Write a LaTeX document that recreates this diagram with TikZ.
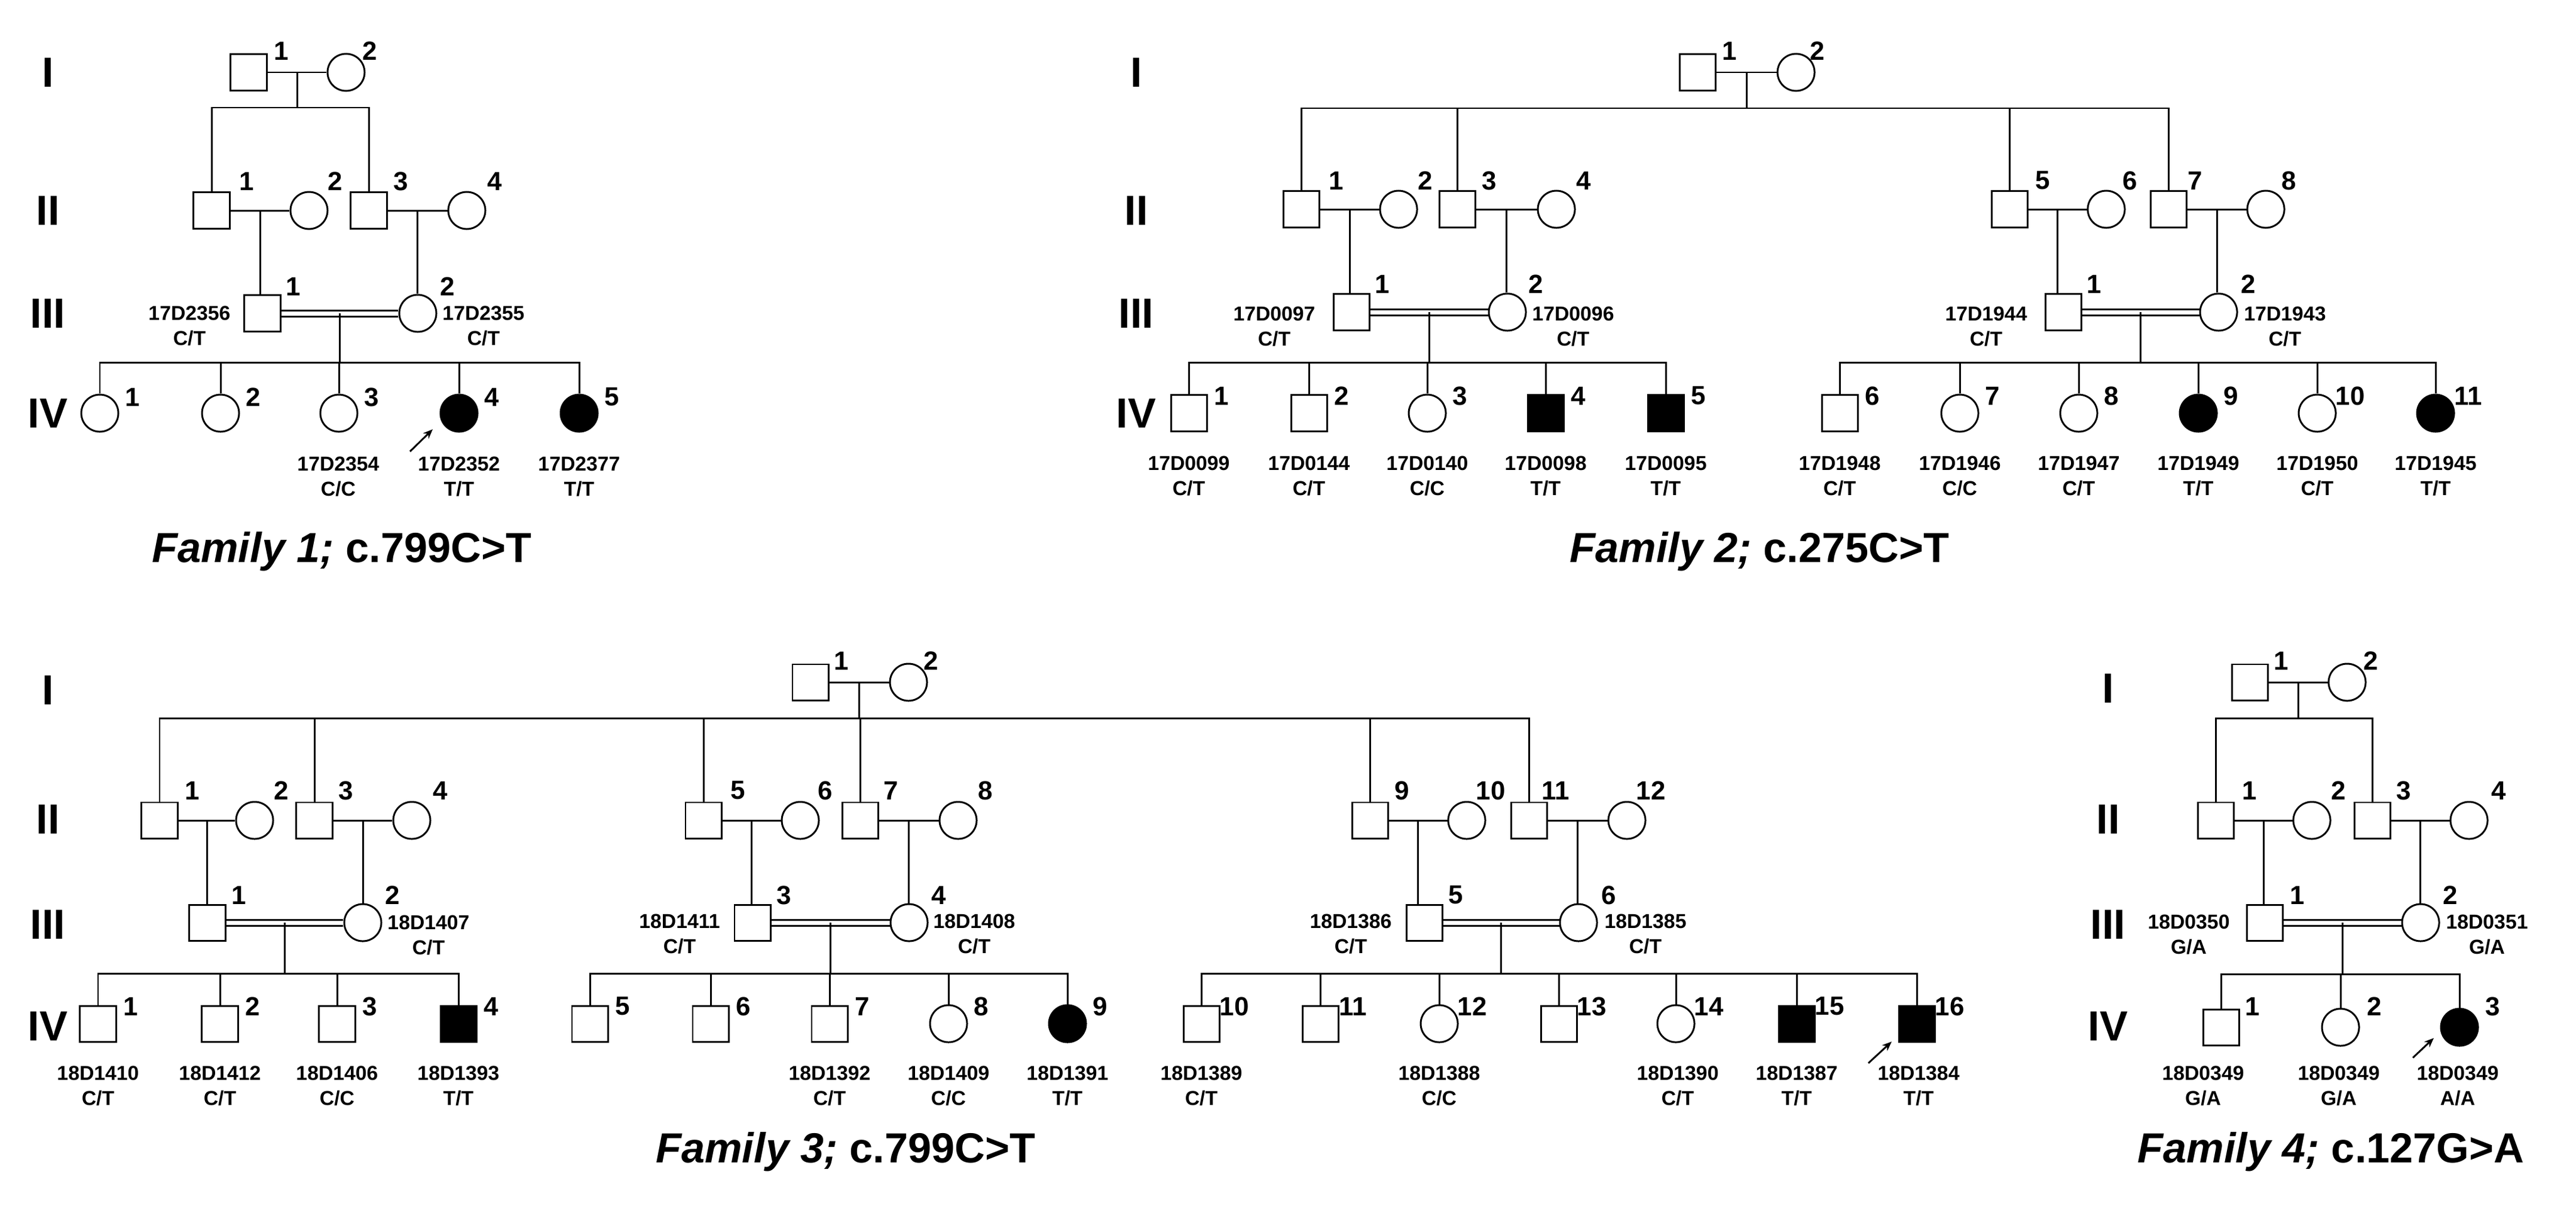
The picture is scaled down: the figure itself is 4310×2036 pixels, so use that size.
\documentclass[tikz,border=0pt]{standalone}
\usepackage{fontspec}
\setmainfont{Liberation Sans}
\usetikzlibrary{calc,arrows.meta}
\tikzset{
 ln/.style={line width=0.85pt},
 sq/.style={draw,line width=0.85pt,minimum size=0.6cm,inner sep=0pt},
 ci/.style={circle,draw,line width=0.85pt,minimum size=0.62cm,inner sep=0pt},
 aff/.style={fill=black},
 sqa/.style={sq,aff},
 cia/.style={ci,aff},
 num/.style={font=\fontsize{12.5}{12.5}\selectfont\bfseries,inner sep=0pt},
 gen/.style={font=\fontsize{20}{20}\selectfont\bfseries,inner sep=0pt},
 idl/.style={font=\fontsize{9.6}{12}\selectfont\bfseries,align=center,inner sep=0pt},
 ttl/.style={font=\fontsize{20}{20}\selectfont\bfseries,inner sep=0pt},
 arr/.style={line width=0.85pt,-{Stealth[length=0.16cm,width=0.13cm]}}
}
\newcommand\kidln[2]{\draw[ln] (#1.north) -- (#1.north |- #2);}
\newcommand\mar[3]{\draw[ln] (#1) -- (#2); \coordinate (#3) at ($(#1.east)!.5!(#2.west)$);}
\newcommand\cons[3]{\draw[ln] ([yshift=0.05cm]#1.east) -- ([yshift=0.05cm]#2.west); \draw[ln] ([yshift=-0.05cm]#1.east) -- ([yshift=-0.05cm]#2.west); \coordinate (#3) at ($(#1.east)!.5!(#2.west)$);}
\newcommand\drop[2]{\draw[ln] (#1) -- (#1 |- #2.north);}
\begin{document}
\begin{tikzpicture}[x=0.01cm,y=-0.01cm]
\useasboundingbox (0,0) rectangle (4310,2036);
% ================= Family 1
\foreach \t/\y in {I/121,II/352,III/524,IV/691}{\node[gen] at (80,\y) {\t};}
\node[sq] (f1i1) at (416,121) {}; \node[ci] (f1i2) at (579,121) {};
\node[num] at (471,85) {1}; \node[num] at (619,85) {2};
\mar{f1i1}{f1i2}{f1im}
\coordinate (f1is) at ($(f1im)+(0,59)$);
\node[sq] (f1ii1) at (354,352) {}; \node[ci] (f1ii2) at (517,352) {};
\node[sq] (f1ii3) at (617,352) {}; \node[ci] (f1ii4) at (781,352) {};
\foreach \x/\n in {413/1,561/2,671/3,828/4}{\node[num] at (\x,303) {\n};}
\draw[ln] (f1im) -- (f1is);
\draw[ln] (f1ii1.north) |- (f1is) -| (f1ii3.north);
\mar{f1ii1}{f1ii2}{f1iim1} \mar{f1ii3}{f1ii4}{f1iim2}
\node[sq] (f1iii1) at (439,524) {}; \node[ci] (f1iii2) at (699,524) {};
\node[num] at (491,479) {1}; \node[num] at (749,479) {2};
\drop{f1iim1}{f1iii1} \drop{f1iim2}{f1iii2}
\node[idl] at (317,545) {17D2356\\C/T}; \node[idl] at (809,545) {17D2355\\C/T};
\cons{f1iii1}{f1iii2}{f1iiim}
\coordinate (f1iiis) at ($(f1iiim)+(0,82)$);
\draw[ln] (f1iiim) -- (f1iiis);
\node[ci] (f1iv1) at (167,691) {}; \node[ci] (f1iv2) at (369,691) {};
\node[ci] (f1iv3) at (567,691) {}; \node[cia] (f1iv4) at (768,691) {};
\node[cia] (f1iv5) at (969,691) {};
\draw[ln] (f1iv1.north) |- (f1iiis) -| (f1iv5.north);
\kidln{f1iv2}{f1iiis} \kidln{f1iv3}{f1iiis} \kidln{f1iv4}{f1iiis}
\foreach \x/\n in {167/1,369/2,567/3,768/4,969/5}{\node[num] at (\x+55,664) {\n};}
\node[idl] at (566,797) {17D2354\\C/C};
\node[idl] at (768,797) {17D2352\\T/T};
\node[idl] at (969,797) {17D2377\\T/T};
\coordinate (f1a) at (686,755); \draw[arr] (f1a) -- ++(38,-37);
\node[ttl] at (572,922) {\textit{Family 1;} c.799C>T};
% ================= Family 2
\foreach \t/\y in {I/121,II/352,III/524,IV/691}{\node[gen] at (1901,\y) {\t};}
\node[sq] (f2i1) at (2840,121) {}; \node[ci] (f2i2) at (3005,121) {};
\node[num] at (2894,85) {1}; \node[num] at (3041,85) {2};
\mar{f2i1}{f2i2}{f2im}
\coordinate (f2is) at ($(f2im)+(0,60)$);
\draw[ln] (f2im) -- (f2is);
\node[sq] (f2ii1) at (2177,350) {}; \node[ci] (f2ii2) at (2340,350) {};
\node[sq] (f2ii3) at (2438,350) {}; \node[ci] (f2ii4) at (2604,350) {};
\node[sq] (f2ii5) at (3362,350) {}; \node[ci] (f2ii6) at (3524,350) {};
\node[sq] (f2ii7) at (3628,350) {}; \node[ci] (f2ii8) at (3791,350) {};
\foreach \x/\n in {2236/1,2385/2,2492/3,2650/4,3418/5,3564/6,3673/7,3830/8}{\node[num] at (\x,302) {\n};}
\draw[ln] (f2ii1.north) |- (f2is) -| (f2ii7.north);
\kidln{f2ii3}{f2is} \kidln{f2ii5}{f2is}
\mar{f2ii1}{f2ii2}{f2iim1} \mar{f2ii3}{f2ii4}{f2iim2}
\mar{f2ii5}{f2ii6}{f2iim3} \mar{f2ii7}{f2ii8}{f2iim4}
\node[sq] (f2iii1) at (2261,522) {}; \node[ci] (f2iii2) at (2522,522) {};
\node[sq] (f2iii3) at (3452,522) {}; \node[ci] (f2iii4) at (3712,522) {};
\drop{f2iim1}{f2iii1} \drop{f2iim2}{f2iii2} \drop{f2iim3}{f2iii3} \drop{f2iim4}{f2iii4}
\foreach \x/\n in {2313/1,2570/2,3504/1,3762/2}{\node[num] at (\x,475) {\n};}
\node[idl] at (2132,546) {17D0097\\C/T}; \node[idl] at (2632,546) {17D0096\\C/T};
\node[idl] at (3323,546) {17D1944\\C/T}; \node[idl] at (3823,546) {17D1943\\C/T};
\cons{f2iii1}{f2iii2}{f2iiim1} \cons{f2iii3}{f2iii4}{f2iiim2}
\coordinate (f2s1) at ($(f2iiim1)+(0,84)$); \coordinate (f2s2) at ($(f2iiim2)+(0,84)$);
\draw[ln] (f2iiim1) -- (f2s1); \draw[ln] (f2iiim2) -- (f2s2);
\node[sq] (f2iv1) at (1989,691) {}; \node[sq] (f2iv2) at (2190,691) {};
\node[ci] (f2iv3) at (2388,691) {}; \node[sqa] (f2iv4) at (2586,691) {};
\node[sqa] (f2iv5) at (2787,691) {};
\node[sq] (f2iv6) at (3078,691) {}; \node[ci] (f2iv7) at (3279,691) {};
\node[ci] (f2iv8) at (3478,691) {}; \node[cia] (f2iv9) at (3678,691) {};
\node[ci] (f2iv10) at (3877,691) {}; \node[cia] (f2iv11) at (4075,691) {};
\draw[ln] (f2iv1.north) |- (f2s1) -| (f2iv5.north);
\kidln{f2iv2}{f2s1} \kidln{f2iv3}{f2s1} \kidln{f2iv4}{f2s1}
\draw[ln] (f2iv6.north) |- (f2s2) -| (f2iv11.north);
\kidln{f2iv7}{f2s2} \kidln{f2iv8}{f2s2} \kidln{f2iv9}{f2s2} \kidln{f2iv10}{f2s2}
\foreach \x/\n in {1989/1,2190/2,2388/3,2586/4,2787/5,3078/6,3279/7,3478/8,3678/9,3877/10,4075/11}{\node[num] at (\x+55,662) {\n};}
\foreach \x/\a/\b in {1989/17D0099/C\slash T,2190/17D0144/C\slash T,2388/17D0140/C\slash C,2586/17D0098/T\slash T,2787/17D0095/T\slash T,3078/17D1948/C\slash T,3279/17D1946/C\slash C,3478/17D1947/C\slash T,3678/17D1949/T\slash T,3877/17D1950/C\slash T,4075/17D1945/T\slash T}{\node[idl] at (\x,796) {\a\\\b};}
\node[ttl] at (2944,922) {\textit{Family 2;} c.275C>T};
% ================= Family 3
\foreach \t/\y in {I/1154,II/1370,III/1546,IV/1716}{\node[gen] at (80,\y) {\t};}
\node[sq] (f3i1) at (1356,1141) {}; \node[ci] (f3i2) at (1520,1141) {};
\node[num] at (1408,1105) {1}; \node[num] at (1558,1105) {2};
\mar{f3i1}{f3i2}{f3im}
\coordinate (f3is) at ($(f3im)+(0,60)$);
\draw[ln] (f3im) -- (f3is);
\foreach \i/\x/\s in {1/267/sq,2/426/ci,3/526/sq,4/689/ci,5/1177/sq,6/1339/ci,7/1439/sq,8/1603/ci,9/2292/sq,10/2454/ci,11/2558/sq,12/2722/ci}{\node[\s] (f3ii\i) at (\x,1372) {};}
\foreach \x/\n in {322/1,471/2,579/3,737/4,1235/5,1381/6,1491/7,1649/8,2346/9,2494/10,2603/11,2762/12}{\node[num] at (\x,1322) {\n};}
\draw[ln] (f3ii1.north) |- (f3is) -| (f3ii11.north);
\kidln{f3ii3}{f3is} \kidln{f3ii5}{f3is} \kidln{f3ii7}{f3is} \kidln{f3ii9}{f3is}
\mar{f3ii1}{f3ii2}{f3iim1} \mar{f3ii3}{f3ii4}{f3iim2}
\mar{f3ii5}{f3ii6}{f3iim3} \mar{f3ii7}{f3ii8}{f3iim4}
\mar{f3ii9}{f3ii10}{f3iim5} \mar{f3ii11}{f3ii12}{f3iim6}
\node[sq] (f3iii1) at (347,1543) {}; \node[ci] (f3iii2) at (607,1543) {};
\node[sq] (f3iii3) at (1259,1543) {}; \node[ci] (f3iii4) at (1521,1543) {};
\node[sq] (f3iii5) at (2383,1543) {}; \node[ci] (f3iii6) at (2641,1543) {};
\drop{f3iim1}{f3iii1} \drop{f3iim2}{f3iii2} \drop{f3iim3}{f3iii3}
\drop{f3iim4}{f3iii4} \drop{f3iim5}{f3iii5} \drop{f3iim6}{f3iii6}
\foreach \x/\n in {400/1,657/2,1312/3,1571/4,2436/5,2692/6}{\node[num] at (\x,1497) {\n};}
\node[idl] at (717,1564) {18D1407\\C/T};
\node[idl] at (1137,1562) {18D1411\\C/T}; \node[idl] at (1630,1562) {18D1408\\C/T};
\node[idl] at (2260,1562) {18D1386\\C/T}; \node[idl] at (2753,1562) {18D1385\\C/T};
\cons{f3iii1}{f3iii2}{f3iiim1} \cons{f3iii3}{f3iii4}{f3iiim2} \cons{f3iii5}{f3iii6}{f3iiim3}
\coordinate (f3s1) at ($(f3iiim1)+(0,85)$); \coordinate (f3s2) at ($(f3iiim2)+(0,85)$); \coordinate (f3s3) at ($(f3iiim3)+(0,85)$);
\draw[ln] (f3iiim1) -- (f3s1); \draw[ln] (f3iiim2) -- (f3s2); \draw[ln] (f3iiim3) -- (f3s3);
\foreach \i/\x/\s in {1/164/sq,2/368/sq,3/564/sq,4/767/sqa,5/987/sq,6/1189/sq,7/1388/sq,8/1587/ci,9/1786/cia,10/2010/sq,11/2209/sq,12/2408/ci,13/2608/sq,14/2804/ci,15/3006/sqa,16/3207/sqa}{\node[\s] (f3iv\i) at (\x,1712) {}; \node[num] at (\x+55,1683) {\i};}
\draw[ln] (f3iv1.north) |- (f3s1) -| (f3iv4.north);
\kidln{f3iv2}{f3s1} \kidln{f3iv3}{f3s1}
\draw[ln] (f3iv5.north) |- (f3s2) -| (f3iv9.north);
\kidln{f3iv6}{f3s2} \kidln{f3iv7}{f3s2} \kidln{f3iv8}{f3s2}
\draw[ln] (f3iv10.north) |- (f3s3) -| (f3iv16.north);
\kidln{f3iv11}{f3s3} \kidln{f3iv12}{f3s3} \kidln{f3iv13}{f3s3} \kidln{f3iv14}{f3s3} \kidln{f3iv15}{f3s3}
\foreach \x/\a/\b in {164/18D1410/C\slash T,368/18D1412/C\slash T,564/18D1406/C\slash C,767/18D1393/T\slash T,1388/18D1392/C\slash T,1587/18D1409/C\slash C,1786/18D1391/T\slash T,2010/18D1389/C\slash T,2408/18D1388/C\slash C,2807/18D1390/C\slash T,3006/18D1387/T\slash T,3210/18D1384/T\slash T}{\node[idl] at (\x,1816) {\a\\\b};}
\coordinate (f3a) at (3126,1778); \draw[arr] (f3a) -- ++(39,-36);
\node[ttl] at (1415,1926) {\textit{Family 3;} c.799C>T};
% ================= Family 4
\foreach \t/\y in {I/1151,II/1370,III/1546,IV/1716}{\node[gen] at (3527,\y) {\t};}
\node[sq] (f4i1) at (3764,1141) {}; \node[ci] (f4i2) at (3927,1141) {};
\node[num] at (3817,1105) {1}; \node[num] at (3967,1105) {2};
\mar{f4i1}{f4i2}{f4im}
\coordinate (f4is) at ($(f4im)+(0,60)$);
\draw[ln] (f4im) -- (f4is);
\node[sq] (f4ii1) at (3707,1372) {}; \node[ci] (f4ii2) at (3868,1372) {};
\node[sq] (f4ii3) at (3969,1372) {}; \node[ci] (f4ii4) at (4131,1372) {};
\foreach \x/\n in {3764/1,3913/2,4022/3,4181/4}{\node[num] at (\x,1322) {\n};}
\draw[ln] (f4ii1.north) |- (f4is) -| (f4ii3.north);
\mar{f4ii1}{f4ii2}{f4iim1} \mar{f4ii3}{f4ii4}{f4iim2}
\node[sq] (f4iii1) at (3789,1543) {}; \node[ci] (f4iii2) at (4050,1543) {};
\drop{f4iim1}{f4iii1} \drop{f4iim2}{f4iii2}
\node[num] at (3844,1497) {1}; \node[num] at (4100,1497) {2};
\node[idl] at (3662,1563) {18D0350\\G/A}; \node[idl] at (4161,1563) {18D0351\\G/A};
\cons{f4iii1}{f4iii2}{f4iiim}
\coordinate (f4s) at ($(f4iiim)+(0,86)$);
\draw[ln] (f4iiim) -- (f4s);
\node[sq] (f4iv1) at (3716,1718) {}; \node[ci] (f4iv2) at (3916,1718) {}; \node[cia] (f4iv3) at (4115,1718) {};
\draw[ln] (f4iv1.north) |- (f4s) -| (f4iv3.north);
\kidln{f4iv2}{f4s}
\foreach \x/\n in {3769/1,3973/2,4171/3}{\node[num] at (\x,1683) {\n};}
\node[idl] at (3686,1816) {18D0349\\G/A};
\node[idl] at (3913,1816) {18D0349\\G/A};
\node[idl] at (4112,1816) {18D0349\\A/A};
\coordinate (f4a) at (4037,1769); \draw[arr] (f4a) -- ++(35,-33);
\node[ttl] at (3900,1926) {\textit{Family 4;} c.127G>A};
\end{tikzpicture}
\end{document}
